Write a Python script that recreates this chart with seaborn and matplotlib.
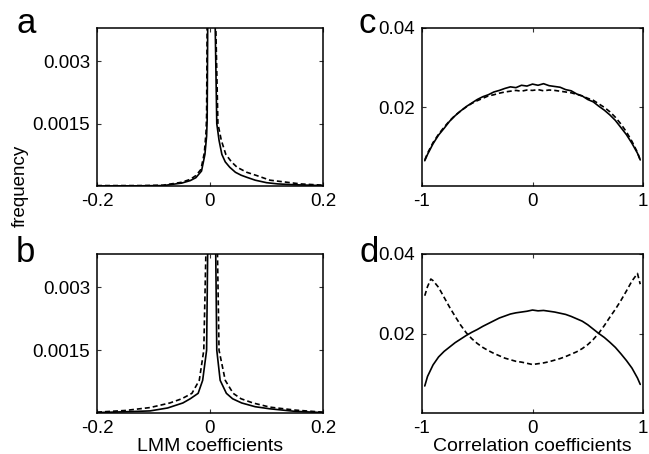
import numpy as np
import matplotlib
matplotlib.use("Agg")
import matplotlib.pyplot as plt
import seaborn as sns

## LMM coefficient histograms (panels a, b)
a_solid_x = [-0.2, -0.12, -0.083, -0.05, -0.035, -0.025, -0.015, -0.009, -0.006, -0.005, -0.004,
             0.002, 0.009, 0.012, 0.016, 0.021, 0.027, 0.035, 0.045, 0.055, 0.065, 0.08, 0.1, 0.12, 0.15, 0.2]
a_solid_y = [0.0, 0.000005, 0.00001, 0.00007, 0.00013, 0.0002, 0.00036, 0.00076, 0.0012, 0.0016, 0.0040,
             0.0070, 0.0040, 0.0015, 0.0011, 0.00076, 0.00058, 0.00045, 0.00033, 0.00026, 0.00021, 0.00014, 0.00008, 0.00005, 0.00003, 0.00001]
a_dash_x = [-0.2, -0.12, -0.083, -0.05, -0.035, -0.025, -0.016, -0.010, -0.007, -0.006, -0.005,
            0.002, 0.010, 0.014, 0.02, 0.028, 0.038, 0.048, 0.065, 0.083, 0.106, 0.13, 0.16, 0.2]
a_dash_y = [0.00001, 0.00001, 0.00002, 0.00009, 0.00016, 0.00025, 0.0004, 0.0008, 0.0013, 0.0017, 0.0040,
            0.0065, 0.0040, 0.0015, 0.0011, 0.00076, 0.00058, 0.00045, 0.00033, 0.00025, 0.00014, 0.0001, 0.00005, 0.00002]

b_solid_x = [-0.2, -0.15, -0.106, -0.075, -0.048, -0.035, -0.021, -0.013, -0.006, -0.004,
             0.004, 0.010, 0.012, 0.018, 0.029, 0.04, 0.056, 0.08, 0.106, 0.15, 0.2]
b_solid_y = [0.00001, 0.00003, 0.00005, 0.00012, 0.00024, 0.00034, 0.00047, 0.00078, 0.0015, 0.0040,
             0.0070, 0.0040, 0.0015, 0.00078, 0.00047, 0.00034, 0.00024, 0.00015, 0.0001, 0.00004, 0.00001]
b_dash_x = [-0.2, -0.15, -0.106, -0.071, -0.05, -0.032, -0.019, -0.011, -0.007,
            0.004, 0.013, 0.016, 0.027, 0.041, 0.055, 0.076, 0.106, 0.15, 0.2]
b_dash_y = [0.00002, 0.00006, 0.00013, 0.00024, 0.00034, 0.00047, 0.00078, 0.0015, 0.0040,
            0.0065, 0.0040, 0.0015, 0.00078, 0.00047, 0.00034, 0.00024, 0.00014, 0.00007, 0.00002]

## Correlation coefficient histograms (panels c, d)
corr_x = [-0.975, -0.95, -0.9, -0.85, -0.8, -0.75, -0.7, -0.65, -0.6, -0.55, -0.5, -0.45, -0.4, -0.35,
          -0.3, -0.25, -0.2, -0.15, -0.1, -0.05, 0.0, 0.05, 0.1, 0.15, 0.2, 0.25, 0.3, 0.35, 0.4,
          0.45, 0.5, 0.55, 0.6, 0.65, 0.7, 0.75, 0.8, 0.85, 0.9, 0.95, 0.975]
c_solid = [0.0064, 0.0080, 0.0107, 0.0129, 0.0146, 0.0164, 0.0178, 0.0190, 0.0201, 0.0210, 0.0219, 0.0226,
           0.0231, 0.0238, 0.0242, 0.0247, 0.0251, 0.0249, 0.0255, 0.0253, 0.0258, 0.0255, 0.0259, 0.0254,
           0.0252, 0.0250, 0.0244, 0.0241, 0.0233, 0.0228, 0.0219, 0.0213, 0.0202, 0.0192, 0.0180, 0.0166,
           0.0148, 0.0130, 0.0108, 0.0083, 0.0066]
c_dash = [0.0066, 0.0083, 0.0110, 0.0131, 0.0149, 0.0165, 0.0179, 0.0190, 0.0200, 0.0209, 0.0216, 0.0222,
          0.0228, 0.0231, 0.0235, 0.0238, 0.0240, 0.0242, 0.0240, 0.0243, 0.0242, 0.0244, 0.0241, 0.0243,
          0.0242, 0.0240, 0.0238, 0.0236, 0.0232, 0.0228, 0.0222, 0.0217, 0.0208, 0.0199, 0.0188, 0.0174,
          0.0157, 0.0137, 0.0113, 0.0085, 0.0066]
d_solid = [0.0068, 0.0092, 0.0121, 0.0141, 0.0155, 0.0166, 0.0177, 0.0186, 0.0195, 0.0203, 0.0210, 0.0218,
           0.0225, 0.0232, 0.0239, 0.0244, 0.0249, 0.0252, 0.0254, 0.0256, 0.0259, 0.0257, 0.0258, 0.0256,
           0.0254, 0.0251, 0.0248, 0.0243, 0.0237, 0.0231, 0.0222, 0.0211, 0.0200, 0.0190, 0.0178, 0.0165,
           0.0149, 0.0132, 0.0113, 0.0088, 0.0072]
d_dash_x = [-0.975, -0.95, -0.92, -0.9, -0.85, -0.8, -0.75, -0.7, -0.65, -0.6, -0.55, -0.5, -0.45, -0.4,
            -0.35, -0.3, -0.25, -0.2, -0.15, -0.1, -0.05, 0.0, 0.05, 0.1, 0.15, 0.2, 0.25, 0.3, 0.35,
            0.4, 0.45, 0.5, 0.55, 0.6, 0.65, 0.7, 0.75, 0.8, 0.85, 0.9, 0.95, 0.975]
d_dash = [0.0295, 0.0318, 0.0337, 0.0333, 0.0316, 0.0291, 0.0266, 0.0243, 0.0221, 0.0202, 0.0187, 0.0175,
          0.0165, 0.0157, 0.0150, 0.0144, 0.0138, 0.0134, 0.0130, 0.0128, 0.0125, 0.0122, 0.0124, 0.0126,
          0.0129, 0.0133, 0.0137, 0.0142, 0.0148, 0.0154, 0.0162, 0.0172, 0.0185, 0.0201, 0.0220, 0.0241,
          0.0261, 0.0283, 0.0307, 0.0332, 0.0351, 0.0324]

sns.set_style("ticks")
plt.rcParams['font.family'] = ['Liberation Sans', 'DejaVu Sans']
plt.rcParams.update({'text.color': 'black', 'axes.labelcolor': 'black', 'axes.edgecolor': 'black',
                     'xtick.color': 'black', 'ytick.color': 'black'})

W, H = 649, 454
fig = plt.figure(figsize=(W / 100, H / 100), dpi=100)

def box(l, t, r, b):
    return [l / W, (H - b) / H, (r - l) / W, (b - t) / H]

ax_a = fig.add_axes(box(97, 28, 323, 186))
ax_c = fig.add_axes(box(422, 28, 643, 186))
ax_b = fig.add_axes(box(97, 254, 323, 413))
ax_d = fig.add_axes(box(422, 254, 643, 413))

dash = (0, (3, 1.8))
lw = 1.2

sns.lineplot(x=a_solid_x, y=a_solid_y, ax=ax_a, color='black', lw=lw)
sns.lineplot(x=a_dash_x, y=a_dash_y, ax=ax_a, color='black', lw=lw, linestyle=dash)
sns.lineplot(x=b_solid_x, y=b_solid_y, ax=ax_b, color='black', lw=lw)
sns.lineplot(x=b_dash_x, y=b_dash_y, ax=ax_b, color='black', lw=lw, linestyle=dash)
sns.lineplot(x=corr_x, y=c_solid, ax=ax_c, color='black', lw=lw)
sns.lineplot(x=corr_x, y=c_dash, ax=ax_c, color='black', lw=lw, linestyle=dash)
sns.lineplot(x=corr_x, y=d_solid, ax=ax_d, color='black', lw=lw)
sns.lineplot(x=d_dash_x, y=d_dash, ax=ax_d, color='black', lw=lw, linestyle=dash)

for ax in [ax_a, ax_b]:
    ax.set_xlim(-0.2, 0.2)
    ax.set_ylim(0, 0.0038)
    ax.set_xticks([-0.2, 0, 0.2])
    ax.set_xticklabels(['-0.2', '0', '0.2'])
    ax.set_yticks([0.0015, 0.003])
    ax.set_yticklabels(['0.0015', '0.003'])
for ax in [ax_c, ax_d]:
    ax.set_xlim(-1, 1)
    ax.set_ylim(0, 0.04)
    ax.set_xticks([-1, 0, 1])
    ax.set_xticklabels(['-1', '0', '1'])
    ax.set_yticks([0.02, 0.04])
    ax.set_yticklabels(['0.02', '0.04'])

for ax in [ax_a, ax_b, ax_c, ax_d]:
    ax.tick_params(direction='in', length=3, width=0.8, top=True, right=True,
                   labelsize=13.5, pad=5, color='#333333', labelcolor='black')
    for s in ax.spines.values():
        s.set_linewidth(1.1)
        s.set_visible(True)
        s.set_color('black')

ax_b.set_xlabel('LMM coefficients', fontsize=14, labelpad=1)
ax_d.set_xlabel('Correlation coefficients', fontsize=14, labelpad=1)
fig.text(20 / W, (H - 186) / H, 'frequency', rotation=90, fontsize=13.5, ha='center', va='center')

for lab, x, y in [('a', 16, 33), ('c', 358, 33), ('b', 16, 262), ('d', 360, 262)]:
    fig.text(x / W, (H - y) / H, lab, fontsize=25, ha='left', va='baseline')

fig.savefig('out.png', dpi=100)
